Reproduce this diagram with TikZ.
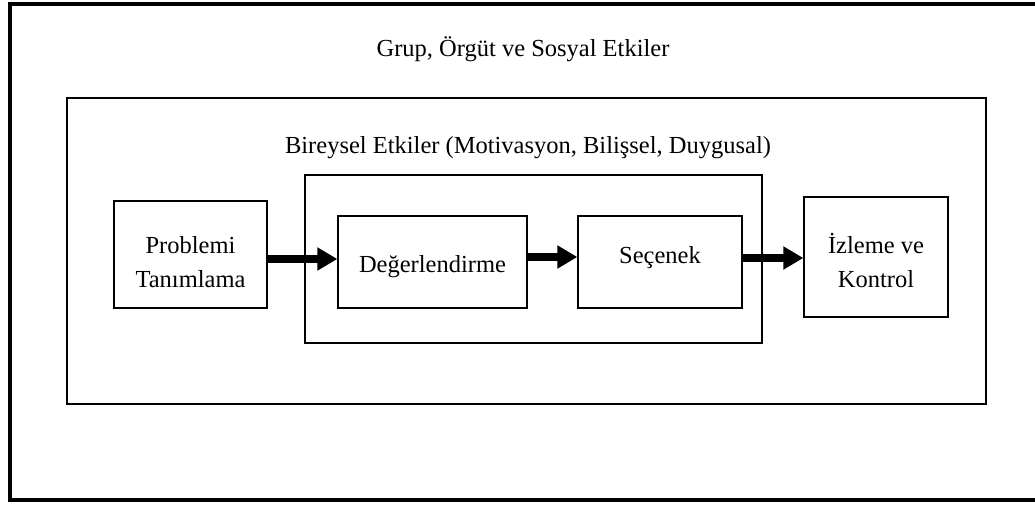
\documentclass[tikz,border=0pt]{standalone}
\usepackage{fontspec}
\setmainfont{Liberation Serif}
\usetikzlibrary{arrows.meta}
\begin{document}
\begin{tikzpicture}[x=1pt,y=-1pt,
  box/.style={draw, line width=1.3pt, rectangle, inner sep=0pt},
  boxtext/.style={align=center, inner sep=0pt, font=\fontsize{24.5}{34}\selectfont},
  frame/.style={draw, line width=1.3pt, rectangle, inner sep=0pt},
  heading/.style={font=\fontsize{24.5}{28}\selectfont, inner sep=0pt},
  flow/.style={line width=8pt, -{Triangle[width=22pt,length=20pt]}}]
\useasboundingbox (0,0) rectangle (1035,505);
% heavy page frame, open on the right
\draw[line width=4.5pt] (1035,4) -- (10,4) -- (10,500) -- (1035,500);
% nested context frames
\node[frame, minimum width=919pt, minimum height=306pt] (social) at (526.5,251) {};
\node[frame, minimum width=457pt, minimum height=168pt] (indiv) at (533.5,259) {};
\node[heading] (socialtitle) at (523,49) {Grup, Örgüt ve Sosyal Etkiler};
\node[heading] (indivtitle) at (528,148) {Bireysel Etkiler (Motivasyon, Bilişsel, Duygusal)};
% process steps
\node[box, minimum width=153pt, minimum height=107pt] (prob) at (190.5,254.5) {};
\node[box, minimum width=189pt, minimum height=92pt] (eval) at (432.5,262) {};
\node[box, minimum width=164pt, minimum height=92pt] (choice) at (660,262) {};
\node[box, minimum width=144pt, minimum height=120pt] (ctrl) at (876,257) {};
\node[boxtext] (probtext) at ([yshift=-8pt]prob.center) {Problemi\\Tanımlama};
\node[boxtext] (evaltext) at ([yshift=-5pt]eval.center) {Değerlendirme};
\node[boxtext] (choicetext) at ([yshift=4pt]choice.center) {Seçenek};
\node[boxtext] (ctrltext) at ([yshift=-4pt]ctrl.center) {İzleme ve\\Kontrol};
% flow arrows
\draw[flow] ([yshift=3pt]prob.east |- eval.west) -- ([yshift=3pt]eval.west);
\draw[flow] ([yshift=5pt]eval.east) -- ([yshift=5pt]choice.west);
\draw[flow] ([yshift=4pt]choice.east) -- ([yshift=4pt]ctrl.west |- choice.east);
\end{tikzpicture}
\end{document}
